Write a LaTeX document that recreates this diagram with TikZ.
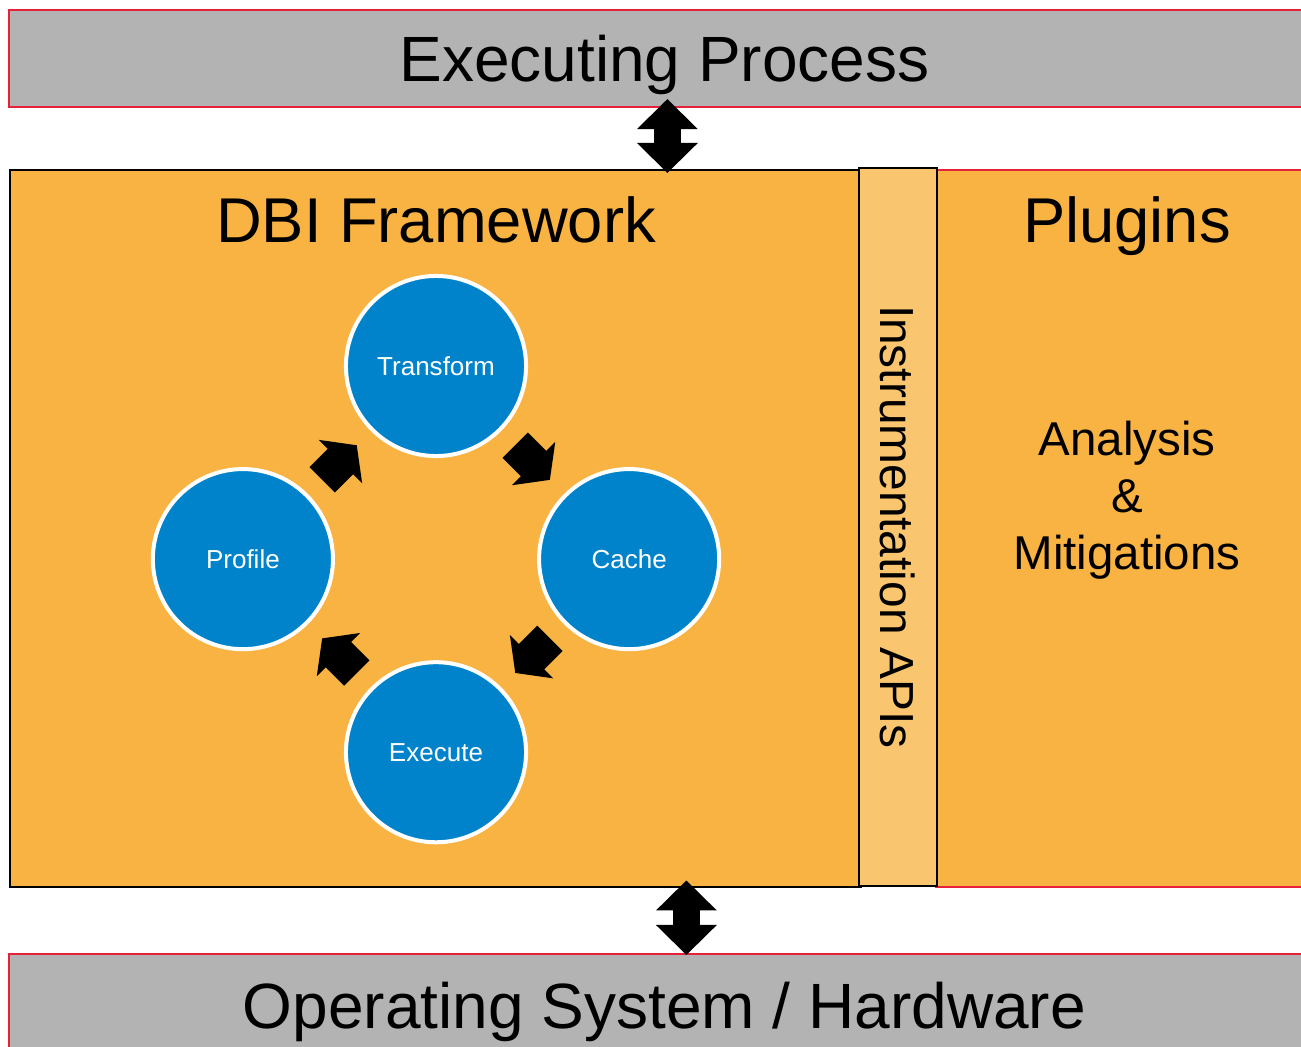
\documentclass[tikz,border=0pt]{standalone}
\usepackage{fontspec}
\setmainfont{Liberation Sans}
\usetikzlibrary{positioning,calc,arrows.meta}
\definecolor{bargrey}{RGB}{179,179,179}
\definecolor{barred}{RGB}{232,33,58}
\definecolor{dbiorange}{RGB}{249,179,66}
\definecolor{apiorange}{RGB}{249,198,111}
\definecolor{loopblue}{RGB}{0,131,202}

\begin{document}
\begin{tikzpicture}[x=0.01cm, y=-0.01cm, node distance=1.93cm and 1.93cm,
    main node/.style={circle, draw=white, line width=0.04cm, fill=loopblue, minimum size=1.8cm, inner sep=0pt, text=white, font=\fontsize{7.4}{9}\selectfont},
    layer bar/.style={rectangle, draw=barred, fill=bargrey, line width=0.02cm, minimum width=13.1cm, text depth=0pt, font=\fontsize{18.2}{22}\selectfont, anchor=north west},
    panel/.style={rectangle, draw=black, fill=dbiorange, line width=0.02cm, minimum height=7.17cm, anchor=north west},
    heading/.style={font=\fontsize{18}{22}\selectfont, anchor=base},
    flow arrow/.style={draw=black, line width=0.36cm, shorten <=0.2cm, shorten >=0.2cm, arrows={-Triangle[length=0.23cm,width=0.6cm]}},
    io arrow/.style={draw=black, line width=0.27cm, arrows={Triangle[length=0.3cm,width=0.59cm]-Triangle[length=0.3cm,width=0.59cm]}}]
  \clip (0,0) rectangle (1301,1046);
  \fill[white] (0,0) rectangle (1301,1046);

  % boxes
  \node[panel, draw=barred, minimum width=3.85cm] (plugins) at (935,169) {};
  \node[panel, minimum width=8.5cm] (dbi) at (9,169) {};
  \node[panel, fill=apiorange, rotate=-90, anchor=center, minimum width=7.18cm, minimum height=0.78cm, text depth=0pt, font=\fontsize{13.6}{16}\selectfont] (apis) at (898,527) {Instrumentation APIs};
  \node[layer bar, minimum height=0.97cm] (proc) at (8,9) {Executing Process};
  \node[layer bar, minimum height=1.02cm] (os) at (8,953) {Operating System / Hardware};

  \node[heading] (dbititle) at (436,242) {DBI Framework};
  \node[heading] (plugtitle) at (1127,242) {Plugins};
  \node[align=center, font=\fontsize{13.5}{16.2}\selectfont] (analysis) at (1127,500) {Analysis\\\&\\Mitigations};

  % the loop
  \node[main node] (1) at (436,366) {Transform};
  \node[main node] (2) [on grid, below right=of 1] {Cache};
  \node[main node] (4) [on grid, below left=of 1] {Profile};
  \node[main node] (3) [on grid, below right=of 4] {Execute};

  \path (4) edge[flow arrow] (1)
        (1) edge[flow arrow] (2)
        (2) edge[flow arrow] (3)
        (3) edge[flow arrow] (4);

  \draw[io arrow] ($(proc.south)+(3,-9)$) -- ($(proc.south |- dbi.north)+(3,4)$);
  \draw[io arrow] ($(os.north |- dbi.south)+(22,-8)$) -- ($(os.north)+(22,2)$);
\end{tikzpicture}
\end{document}
